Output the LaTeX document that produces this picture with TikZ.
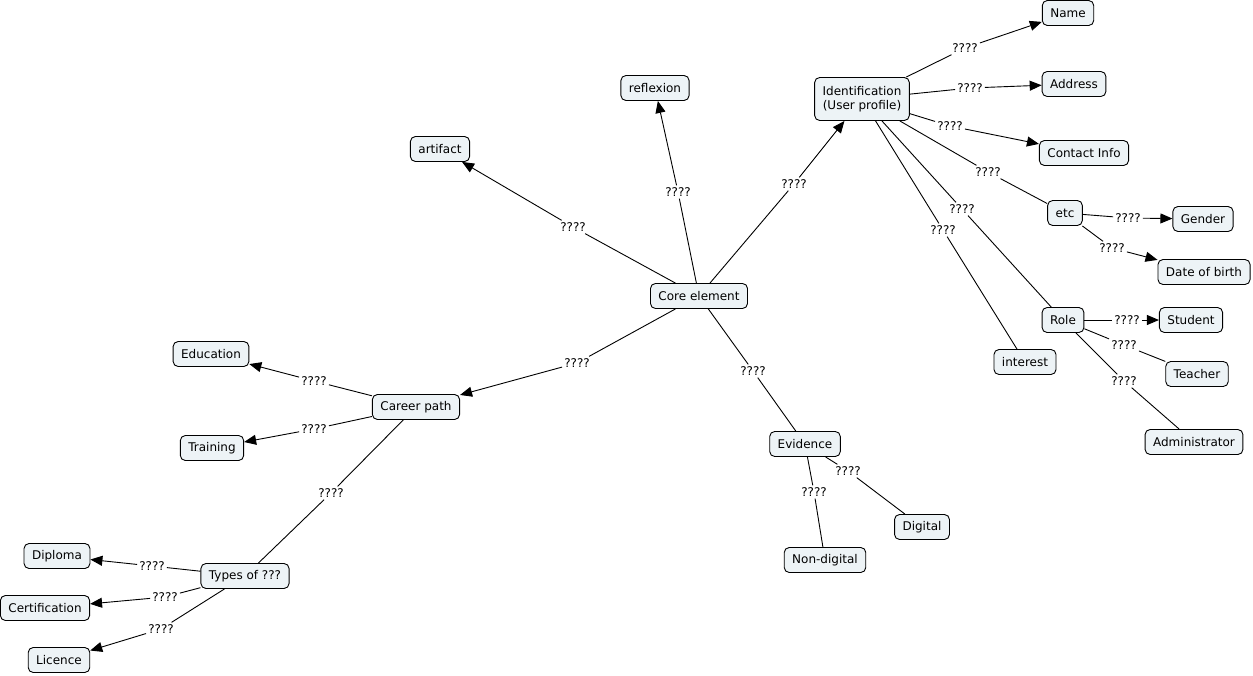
\documentclass[tikz,border=0pt]{standalone}
\usepackage{fontspec}
\setmainfont{DejaVu Sans}
\usetikzlibrary{arrows.meta}
\definecolor{boxfill}{RGB}{237,243,246}
\tikzset{
  concept/.style={draw=black, fill=boxfill, rounded corners=5pt, line width=0.9pt,
    inner xsep=8pt, inner ysep=3pt, minimum height=25pt, align=center,
    font=\fontsize{12}{14}\selectfont},
  lbl/.style={inner sep=2pt, font=\fontsize{12}{14}\selectfont},
  link/.style={line width=0.9pt},
  arr/.style={line width=0.9pt, -{Triangle[length=12pt,width=10pt]}}
}
\begin{document}
\begin{tikzpicture}[x=1pt,y=-1pt]
\useasboundingbox (0,0) rectangle (1253,675);
% concepts
\node[concept] (core) at (699,296) {Core element};
\node[concept, minimum height=43pt] (ident) at (862,99) {Identification\\(User profile)};
\node[concept] (name) at (1068,13) {Name};
\node[concept] (addr) at (1074,84) {Address};
\node[concept] (contact) at (1084,153) {Contact Info};
\node[concept] (refl) at (655,88) {reflexion};
\node[concept] (artif) at (440,149) {artifact};
\node[concept] (etc) at (1065,213) {etc};
\node[concept] (gender) at (1203,219) {Gender};
\node[concept] (dob) at (1204,272) {Date of birth};
\node[concept] (role) at (1063,320) {Role};
\node[concept] (student) at (1191,320) {Student};
\node[concept] (teacher) at (1197,374) {Teacher};
\node[concept] (admin) at (1194,442) {Administrator};
\node[concept] (interest) at (1025,362) {interest};
\node[concept] (educ) at (211,354) {Education};
\node[concept] (career) at (416,407) {Career path};
\node[concept] (train) at (212,448) {Training};
\node[concept] (evid) at (805,444) {Evidence};
\node[concept] (digital) at (922,527) {Digital};
\node[concept] (nondig) at (825,560) {Non-digital};
\node[concept] (types) at (245,576) {Types of ???};
\node[concept] (diploma) at (57,556) {Diploma};
\node[concept] (cert) at (45,608) {Certification};
\node[concept] (licence) at (59,660) {Licence};
% labels
\node[lbl] (l1) at (794,184) {????};
\node[lbl] (l2) at (965,48) {????};
\node[lbl] (l3) at (970,88) {????};
\node[lbl] (l4) at (950,126) {????};
\node[lbl] (l5) at (988,172) {????};
\node[lbl] (l6) at (962,209) {????};
\node[lbl] (l7) at (943,230) {????};
\node[lbl] (l8) at (1128,218) {????};
\node[lbl] (l9) at (1112,248) {????};
\node[lbl] (l10) at (1127,320) {????};
\node[lbl] (l11) at (1124,345) {????};
\node[lbl] (l12) at (1124,381) {????};
\node[lbl] (l13) at (678,192) {????};
\node[lbl] (l14) at (573,227) {????};
\node[lbl] (l15) at (577,363) {????};
\node[lbl] (l16) at (753,371) {????};
\node[lbl] (l17) at (848,471) {????};
\node[lbl] (l18) at (814,492) {????};
\node[lbl] (l19) at (314,381) {????};
\node[lbl] (l20) at (314,429) {????};
\node[lbl] (l21) at (331,493) {????};
\node[lbl] (l22) at (152,566) {????};
\node[lbl] (l23) at (165,597) {????};
\node[lbl] (l24) at (161,629) {????};
% links
\draw[link] (core) -- (l1); \draw[arr] (l1) -- (ident);
\draw[link] (ident) -- (l2); \draw[arr] (l2) -- (name);
\draw[link] (ident) -- (l3); \draw[arr] (l3) -- (addr);
\draw[link] (ident) -- (l4); \draw[arr] (l4) -- (contact);
\draw[link] (ident) -- (l5); \draw[link] (l5) -- (etc);
\draw[link] (ident) -- (l6); \draw[link] (l6) -- (role);
\draw[link] (ident) -- (l7); \draw[link] (l7) -- (interest);
\draw[link] (etc) -- (l8); \draw[arr] (l8) -- (gender);
\draw[link] (etc) -- (l9); \draw[arr] (l9) -- (dob);
\draw[link] (role) -- (l10); \draw[arr] (l10) -- (student);
\draw[link] (role) -- (l11); \draw[link] (l11) -- (teacher);
\draw[link] (role) -- (l12); \draw[link] (l12) -- (admin);
\draw[link] (core) -- (l13); \draw[arr] (l13) -- (refl);
\draw[link] (core) -- (l14); \draw[arr] (l14) -- (artif);
\draw[link] (core) -- (l15); \draw[arr] (l15) -- (career);
\draw[link] (core) -- (l16); \draw[link] (l16) -- (evid);
\draw[link] (evid) -- (l17); \draw[link] (l17) -- (digital);
\draw[link] (evid) -- (l18); \draw[link] (l18) -- (nondig);
\draw[link] (career) -- (l19); \draw[arr] (l19) -- (educ);
\draw[link] (career) -- (l20); \draw[arr] (l20) -- (train);
\draw[link] (career) -- (l21); \draw[link] (l21) -- (types);
\draw[link] (types) -- (l22); \draw[arr] (l22) -- (diploma);
\draw[link] (types) -- (l23); \draw[arr] (l23) -- (cert);
\draw[link] (types) -- (l24); \draw[arr] (l24) -- (licence);
\end{tikzpicture}
\end{document}
